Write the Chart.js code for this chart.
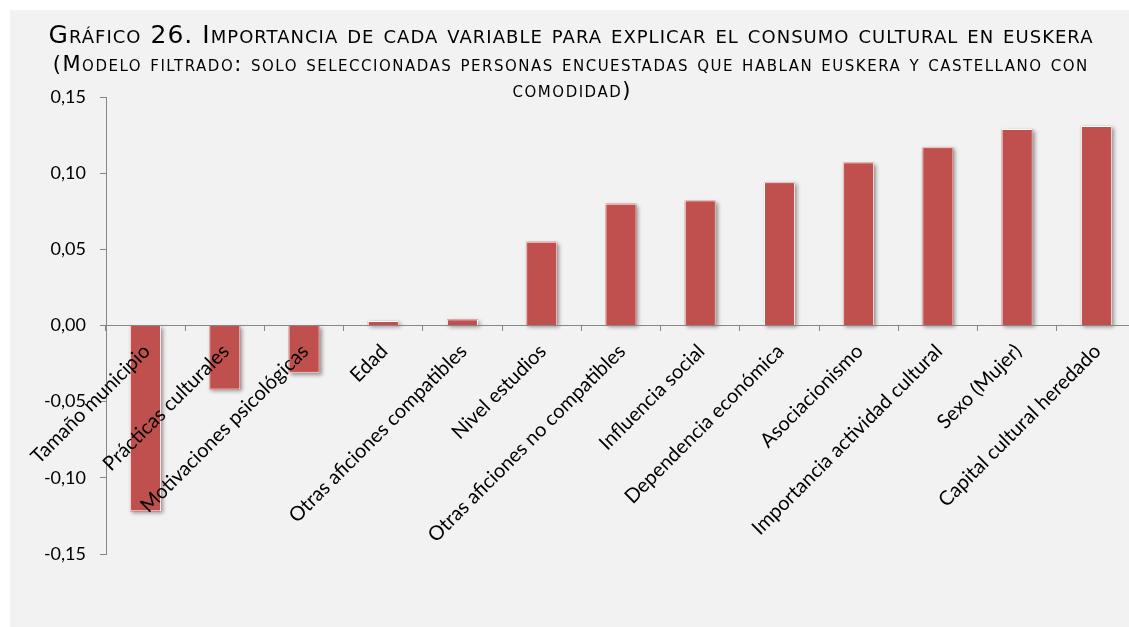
<!DOCTYPE html>
<html>
<head>
<meta charset="utf-8">
<script src="https://cdn.jsdelivr.net/npm/chart.js@4.4.0/dist/chart.umd.min.js"></script>
<style>
html, body { margin: 0; padding: 0; background: #fff; overflow: hidden; }
#wrap { position: absolute; left: 10px; top: 10px; width: 1126px; height: 617px; background: #F2F2F2; }
</style>
</head>
<body>
<div id="wrap"><canvas id="grafico" width="1126" height="617"></canvas></div>
<script>
const categorias = ['Tamaño municipio', 'Prácticas culturales', 'Motivaciones psicológicas', 'Edad',
    'Otras aficiones compatibles', 'Nivel estudios', 'Otras aficiones no compatibles', 'Influencia social',
    'Dependencia económica', 'Asociacionismo', 'Importancia actividad cultural', 'Sexo (Mujer)',
    'Capital cultural heredado'];
const valores = [-0.122, -0.042, -0.031, 0.003, 0.004, 0.055, 0.080, 0.082, 0.094, 0.107, 0.117, 0.129, 0.131];
const ticksY = [-0.15, -0.10, -0.05, 0, 0.05, 0.10, 0.15];

const titulo = 'Gráfico 26. Importancia de cada variable para explicar el consumo cultural en euskera';
const subtitulo = ['(Modelo filtrado: solo seleccionadas personas encuestadas que hablan euskera y castellano con',
    'comodidad)'];

const rojo = '#C0504D';
const gris = '#868686';

// sombra tipo Excel detras de cada barra
const sombra = {
    id: 'sombra',
    beforeDatasetsDraw(chart) {
        const c = chart.ctx;
        c.save();
        c.shadowColor = 'rgba(0,0,0,0.4)';
        c.shadowBlur = 4;
        c.shadowOffsetX = 2;
        c.shadowOffsetY = 2;
        c.fillStyle = rojo;
        chart.getDatasetMeta(0).data.forEach(b => {
            const p = b.getProps(['x', 'y', 'base', 'width'], true);
            c.fillRect(p.x - p.width / 2, Math.min(p.y, p.base), p.width, Math.abs(p.base - p.y));
        });
        c.restore();
    }
};

// titulo en versalitas, con el espaciado ancho del original
function linea(c, texto, size, ancho, x, y, espFijo) {
    c.font = 'small-caps ' + size + 'px "DejaVu Sans"';
    c.letterSpacing = '0px';
    const w = c.measureText(texto).width;
    const esp = ancho ? (ancho - w) / texto.length : espFijo;
    c.letterSpacing = esp + 'px';
    c.fillText(texto, x + esp / 2, y);
    return esp;
}
const cabecera = {
    id: 'cabecera',
    afterDraw(chart) {
        const c = chart.ctx;
        c.save();
        c.fillStyle = '#000';
        c.textAlign = 'center';
        c.textBaseline = 'alphabetic';
        linea(c, titulo, 25, 1045, 560.5, 33);
        const esp = linea(c, subtitulo[0], 21, 1036, 560, 61);
        linea(c, subtitulo[1], 21, 0, 561.5, 87, esp);
        c.restore();
    }
};

let grafico;
function chart_load() {
    const ctx = document.getElementById('grafico').getContext('2d');
    grafico = new Chart(ctx, {
        type: 'bar',
        data: {
            labels: categorias,
            datasets: [{
                data: valores,
                backgroundColor: rojo,
                borderColor: '#ffffff',
                borderWidth: 1,
                barPercentage: 0.39,
                categoryPercentage: 1
            }]
        },
        options: {
            responsive: false,
            animation: false,
            layout: { padding: { top: 87, left: 0, right: 0, bottom: 73 } },
            plugins: {
                legend: { display: false },
                tooltip: { enabled: false },
                title: { display: false }
            },
            scales: {
                x: {
                    position: { y: 0 },
                    grid: { display: true, drawOnChartArea: false, offset: true, tickLength: 5, color: gris },
                    border: { display: true, color: gris, width: 1, z: 1 },
                    ticks: {
                        z: 1,
                        autoSkip: false, minRotation: 45, maxRotation: 45, padding: 9, labelOffset: 1,
                        color: '#000', font: { family: 'Lato', size: 20 }
                    }
                },
                y: {
                    min: -0.15,
                    max: 0.15,
                    afterBuildTicks: s => { s.ticks = ticksY.map(v => ({ value: v })); },
                    afterFit: s => { s.width = 96; },
                    grid: { display: true, drawOnChartArea: false, tickLength: 6, color: gris },
                    border: { display: true, color: gris, width: 1 },
                    ticks: {
                        padding: 14,
                        color: '#000',
                        font: { family: 'Lato', size: 18 },
                        callback: v => v.toFixed(2).replace('.', ',')
                    }
                }
            }
        },
        plugins: [sombra, cabecera]
    });
}
chart_load();
</script>
</body>
</html>
